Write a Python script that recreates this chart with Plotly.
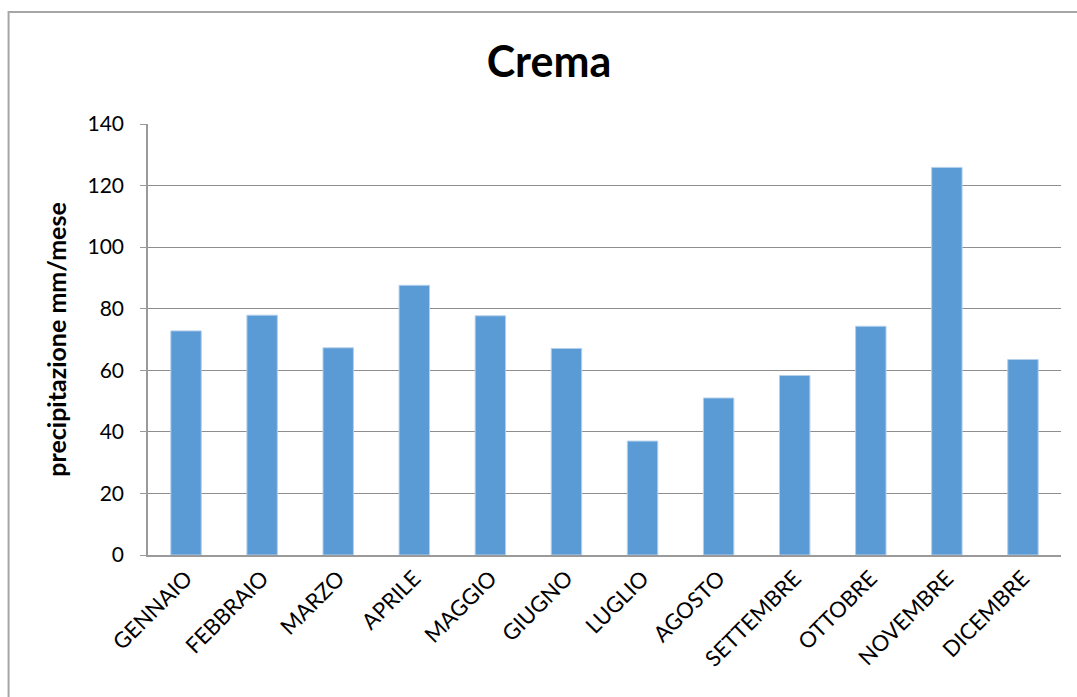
import plotly.graph_objects as go

# Monthly precipitation at Crema (mm per month)
mesi = ["GENNAIO", "FEBBRAIO", "MARZO", "APRILE", "MAGGIO", "GIUGNO",
        "LUGLIO", "AGOSTO", "SETTEMBRE", "OTTOBRE", "NOVEMBRE", "DICEMBRE"]
precipitazione = [72.8, 77.9, 67.3, 87.6, 77.7, 67.1,
                  37.0, 51.0, 58.3, 74.3, 125.9, 63.5]
y_ticks = [0, 20, 40, 60, 80, 100, 120, 140]

FONT = "Lato"
W, H = 1077, 697
L, R, T, B = 147.5, 16, 124, 142
PW, PH = W - L - R, H - T - B

fig = go.Figure(
    go.Bar(
        x=mesi,
        y=precipitazione,
        marker=dict(color="#5B9BD5", line=dict(color="#B4CFEC", width=1)),
        hoverinfo="x+y",
    )
)

fig.update_layout(
    width=W,
    height=H,
    margin=dict(l=L, r=R, t=T, b=B, pad=0),
    paper_bgcolor="white",
    plot_bgcolor="white",
    bargap=0.6,
    showlegend=False,
    font=dict(family=FONT, color="black"),
    title=dict(
        text="<b>Crema</b>",
        font=dict(family=FONT, size=43, color="black"),
        x=549 / W,
        xref="container",
        xanchor="center",
        y=1 - 62 / H,
        yref="container",
        yanchor="middle",
    ),
    shapes=[
        # outer chart-area frame (right and bottom edges run past the page)
        dict(type="rect", xref="paper", yref="paper",
             x0=(8 - L) / PW, x1=(W + 20 - L) / PW,
             y0=-(B + 20) / PH,
             y1=1 + (T - 12) / PH,
             line=dict(color="#A6A6A6", width=2), layer="below"),
    ],
)

fig.update_xaxes(
    showline=True,
    linecolor="#9A9A9A",
    linewidth=1.5,
    showgrid=False,
    ticks="",
    tickangle=-45,
    tickfont=dict(family=FONT, size=22, color="black"),
)

fig.update_yaxes(
    range=[0, 140],
    tickvals=y_ticks,
    showline=True,
    linecolor="#9A9A9A",
    linewidth=1.5,
    showgrid=True,
    gridcolor="#8E8E8E",
    gridwidth=1.3,
    ticks="outside",
    ticklen=6,
    tickcolor="#9A9A9A",
    ticklabelstandoff=12,
    tickfont=dict(family=FONT, size=21, color="black"),
    zeroline=False,
    title=dict(
        text="<b>precipitazione mm/mese</b>",
        font=dict(family=FONT, size=25, color="black"),
        standoff=14,
    ),
)

fig.write_html("out.html")
